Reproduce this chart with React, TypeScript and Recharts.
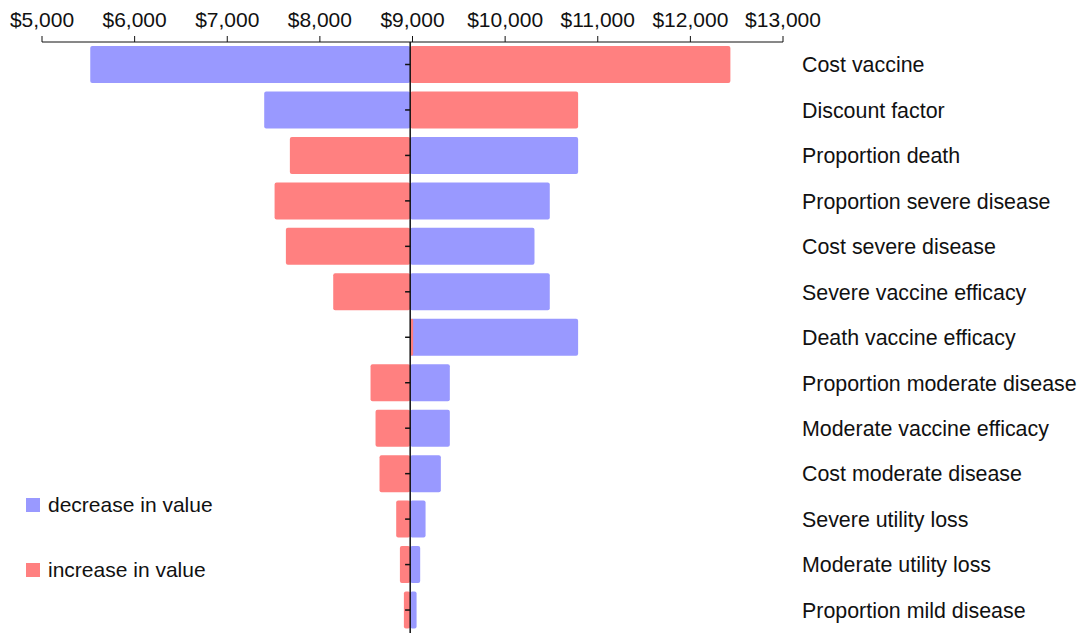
import { Bar, BarChart, Legend, ReferenceLine, XAxis, YAxis } from "recharts";

// base-case ICER the bars swing around
const BASE = 8975;

const categories = [
  "Cost vaccine",
  "Discount factor",
  "Proportion death",
  "Proportion severe disease",
  "Cost severe disease",
  "Severe vaccine efficacy",
  "Death vaccine efficacy",
  "Proportion moderate disease",
  "Moderate vaccine efficacy",
  "Cost moderate disease",
  "Severe utility loss",
  "Moderate utility loss",
  "Proportion mild disease",
];

const decreaseValues = [5521, 7399, 10788, 10482, 10317, 10482, 10788, 9403, 9403, 9306, 9141, 9083, 9044];
const increaseValues = [12432, 10788, 7676, 7511, 7633, 8144, 9007, 8547, 8601, 8644, 8824, 8864, 8907];

const xTicks = [5000, 6000, 7000, 8000, 9000, 10000, 11000, 12000, 13000];

const data = categories.map((name, i) => ({
  name,
  decrease: [Math.min(BASE, decreaseValues[i]), Math.max(BASE, decreaseValues[i])],
  increase: [Math.min(BASE, increaseValues[i]), Math.max(BASE, increaseValues[i])],
  tick: [BASE - 55, BASE],
}));

const FONT = '"Liberation Sans", Arial, Helvetica, sans-serif';
const BLUE = "#9999FF";
const RED = "#FF8080";

// small tick mark on the central axis
function TickMark(props: any) {
  const { x, y, width, height } = props;
  const cy = y + height / 2;
  return <line x1={x} x2={x + width} y1={cy} y2={cy} stroke="#111" strokeWidth={1.5} />;
}

function renderLegend() {
  const items = [
    { label: "decrease in value", color: BLUE },
    { label: "increase in value", color: RED },
  ];
  return (
    <div style={{ fontFamily: FONT, fontSize: 21, color: "#111" }}>
      {items.map((it, i) => (
        <div
          key={it.label}
          style={{ display: "flex", alignItems: "center", height: 24, marginTop: i === 0 ? 0 : 41 }}
        >
          <span style={{ width: 14, height: 14, background: it.color, display: "inline-block", marginRight: 8 }} />
          <span>{it.label}</span>
        </div>
      ))}
    </div>
  );
}

export default function App() {
  return (
    <div style={{ position: "absolute", left: 0, top: 0, fontFamily: FONT, background: "#fff" }}>
      <BarChart
        width={1080}
        height={635}
        data={data}
        layout="vertical"
        margin={{ top: 0, right: 0, left: 42, bottom: 2 }}
        barSize={37}
        barGap={-37}
      >
        <XAxis
          type="number"
          orientation="top"
          domain={[5000, 13000]}
          ticks={xTicks}
          height={42}
          tickSize={6}
          tickMargin={9}
          allowDataOverflow
          axisLine={{ stroke: "#111" }}
          tickLine={{ stroke: "#111" }}
          tick={{ fontSize: 21, fill: "#111", fontFamily: FONT }}
          tickFormatter={(v: number) => `$${v.toLocaleString("en-US")}`}
        />
        <YAxis
          type="category"
          dataKey="name"
          orientation="right"
          width={297}
          axisLine={false}
          tickLine={false}
          tickSize={0}
          tickMargin={19}
          interval={0}
          tick={{ fontSize: 21.4, fill: "#111", fontFamily: FONT, textAnchor: "start" }}
        />
        <Legend
          layout="vertical"
          align="center"
          verticalAlign="middle"
          content={renderLegend}
          wrapperStyle={{ left: 26, top: 493, width: 240 }}
        />
        <Bar
          dataKey="decrease"
          name="decrease in value"
          fill={BLUE}
          radius={2}
          isAnimationActive={false}
        />
        <Bar
          dataKey="increase"
          name="increase in value"
          fill={RED}
          radius={2}
          isAnimationActive={false}
        />
        <Bar dataKey="tick" legendType="none" shape={TickMark} isAnimationActive={false} />
        <ReferenceLine x={BASE} stroke="#111" strokeWidth={1.5} />
      </BarChart>
    </div>
  );
}
